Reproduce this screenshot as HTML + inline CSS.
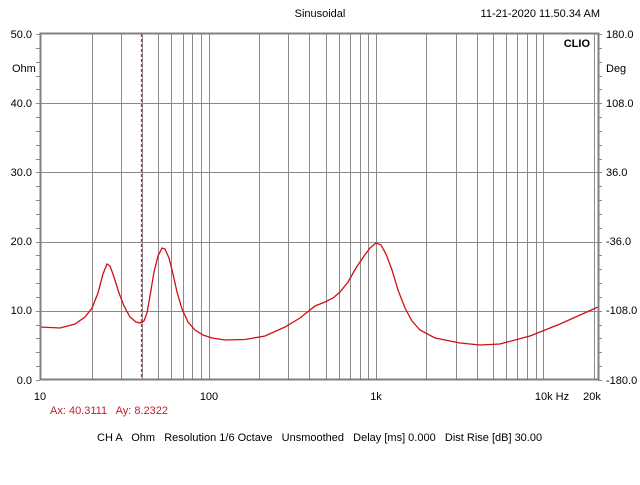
<!DOCTYPE html><html><head><style>body{margin:0;background:#fff}svg{font-family:"Liberation Sans",sans-serif}</style></head><body>
<svg width="640" height="480" xmlns="http://www.w3.org/2000/svg">
<rect width="640" height="480" fill="#fff"/>
<g id="grid" stroke="#8a8a8a" stroke-width="1"></g>
<line x1="141.5" y1="34" x2="141.5" y2="380" stroke="#c0303a" stroke-width="1.3" stroke-dasharray="3,2"/>
<polyline id="curve" fill="none" stroke="#d01010" stroke-width="1.3"/>
<rect x="40.5" y="33.5" width="558" height="346" fill="none" stroke="#808080" stroke-width="2"/>
<g font-size="11" fill="#000">
<text x="32" y="38" text-anchor="end">50.0</text>
<text x="12" y="72">Ohm</text>
<text x="32" y="107" text-anchor="end">40.0</text>
<text x="32" y="176" text-anchor="end">30.0</text>
<text x="32" y="245" text-anchor="end">20.0</text>
<text x="32" y="314" text-anchor="end">10.0</text>
<text x="32" y="384" text-anchor="end">0.0</text>
<text x="606" y="38">180.0</text>
<text x="606" y="72">Deg</text>
<text x="606" y="107">108.0</text>
<text x="606" y="176">36.0</text>
<text x="606" y="245">-36.0</text>
<text x="606" y="314">-108.0</text>
<text x="606" y="384">-180.0</text>
<text x="40" y="400" text-anchor="middle">10</text>
<text x="209" y="400" text-anchor="middle">100</text>
<text x="376" y="400" text-anchor="middle">1k</text>
<text x="552" y="400" text-anchor="middle">10k Hz</text>
<text x="592" y="400" text-anchor="middle">20k</text>
<text x="50" y="414" fill="#c0202a" xml:space="preserve">Ax: 40.3111   Ay: 8.2322</text>
<text x="97" y="441" xml:space="preserve">CH A   Ohm   Resolution 1/6 Octave   Unsmoothed   Delay [ms] 0.000   Dist Rise [dB] 30.00</text>
<text x="320" y="17" text-anchor="middle">Sinusoidal</text>
<text x="600" y="17" text-anchor="end">11-21-2020 11.50.34 AM</text>
<text x="590" y="47" text-anchor="end" font-weight="bold">CLIO</text>
</g>
</svg>
<script>
var g=document.getElementById('grid'),s='';
function X(f){return 41.2+167.4*Math.log10(f/10);}
[10,100,1000,10000].forEach(function(d){for(var m=1;m<10;m++){var f=d*m;if(f<=10||f>20000)continue;var x=Math.round(X(f))+0.5;s+='<line x1="'+x+'" y1="34" x2="'+x+'" y2="380"/>';}});
for(var v=10;v<50;v+=10){var y=Math.round(380-v*6.92)+0.5;s+='<line x1="40" y1="'+y+'" x2="598" y2="'+y+'"/>';}
for(var v=0;v<=50;v+=2){var y=Math.round(380-v*6.92)+0.5;s+='<line x1="36" y1="'+y+'" x2="40" y2="'+y+'"/><line x1="598" y1="'+y+'" x2="602" y2="'+y+'"/>';}
g.innerHTML=s;
document.getElementById('curve').setAttribute('points',"40,327 60,328 75,324 85,317 92,308 98,293 103,274 107,264 110,266 114,277 119,293 124,306 130,317 136,322 140,323 144,321 147,313 150,296 154,272 158,256 162,248 165,249 169,258 173,274 177,292 182,309 188,322 195,330 203,335 212,338 225,340 245,339.5 265,336 285,327 300,318 315,306 325,302 333,298 340,292 348,282 356,268 364,256 370,248 376,243 381,245 386,254 392,270 398,290 405,308 412,321 420,330 435,338 460,343 480,345 500,344 530,336 560,324 598,307");
</script>
</body></html>
